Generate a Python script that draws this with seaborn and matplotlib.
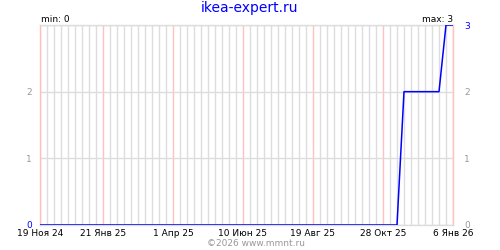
import matplotlib
matplotlib.use("Agg")
import matplotlib.pyplot as plt
import seaborn as sns
import pandas as pd

# ---- data ----
start_date = "2024-11-19"
n_weeks = 60
values = [0, 0, 0, 0, 0, 0, 0, 0, 0, 0,
          0, 0, 0, 0, 0, 0, 0, 0, 0, 0,
          0, 0, 0, 0, 0, 0, 0, 0, 0, 0,
          0, 0, 0, 0, 0, 0, 0, 0, 0, 0,
          0, 0, 0, 0, 0, 0, 0, 0, 0, 0,
          0, 0, 2, 2, 2, 2, 2, 2, 3, 3]
tick_dates = ["2024-11-19", "2025-01-21", "2025-04-01", "2025-06-10",
              "2025-08-19", "2025-10-28", "2026-01-06"]
tick_labels = ["19 Ноя 24", "21 Янв 25", "1 Апр 25", "10 Июн 25",
               "19 Авг 25", "28 Окт 25", "6 Янв 26"]
y_ticks = [0, 1, 2, 3]
title = "ikea-expert.ru"
min_text = "min: 0"
max_text = "max: 3"
footer = "©2026 www.mmnt.ru"

dates = pd.date_range(start_date, periods=n_weeks, freq="7D")
df = pd.DataFrame({"date": dates, "value": values})
major = pd.to_datetime(tick_dates)

sns.set_style("white")
plt.rcParams["font.family"] = ["DejaVu Sans"]

fig = plt.figure(figsize=(5, 2.5), dpi=100)
ax = fig.add_axes([40 / 500, 1 - 225 / 250, 413 / 500, 200 / 250])

grey = "#dddddd"
pink = "#ffc0c0"
blue = "#0000ff"
lblgrey = "#999999"

ax.set_xlim(major[0], major[-1])
ax.set_ylim(0, 3)

minor = [d for d in dates if d not in set(major)]
ax.set_xticks(minor, minor=True)
ax.set_xticks(major)
ax.set_xticklabels(tick_labels)
ax.grid(True, which="minor", axis="x", color=grey, linewidth=1.0, zorder=0)
ax.grid(True, which="major", axis="x", color=pink, linewidth=1.0, zorder=0)
ax.set_yticks(y_ticks)
ax.grid(True, which="major", axis="y", color=grey, linewidth=1.0, zorder=0)
ax.set_axisbelow(True)

sns.lineplot(data=df, x="date", y="value", ax=ax, color=blue,
             linewidth=1.1, zorder=3)
ax.set_xlabel("")
ax.set_ylabel("")

for side, col in [("top", grey), ("bottom", grey), ("left", pink), ("right", pink)]:
    ax.spines[side].set_color(col)
    ax.spines[side].set_linewidth(1.0)

ax.tick_params(axis="both", which="both", length=0)
ax.tick_params(axis="x", pad=3, labelsize=6.5, labelcolor="black")
ax.tick_params(axis="y", pad=6, labelsize=6.5)
ax.set_yticklabels(["0", "1", "2", ""])
for lbl, c in zip(ax.get_yticklabels(), [blue, lblgrey, lblgrey, lblgrey]):
    lbl.set_color(c)

ax2 = ax.twinx()
ax2.set_ylim(0, 3)
ax2.set_yticks(y_ticks)
ax2.set_yticklabels([str(v) for v in y_ticks])
ax2.tick_params(axis="y", length=0, pad=8, labelsize=6.5)
for lbl, c in zip(ax2.get_yticklabels(), [lblgrey, lblgrey, lblgrey, blue]):
    lbl.set_color(c)
for s in ax2.spines.values():
    s.set_visible(False)

fig.text(0.5, 1 - 8 / 250, title, color=blue, ha="center", va="center", fontsize=10)
fig.text(41 / 500, 1 - 19.5 / 250, min_text, color="black", ha="left", va="center", fontsize=6.5)
fig.text(453 / 500, 1 - 19.5 / 250, max_text, color="black", ha="right", va="center", fontsize=6.5)
fig.text(256 / 500, 1 - 243 / 250, footer, color=lblgrey, ha="center", va="center", fontsize=6.5)

fig.savefig("out.png", dpi=100)
